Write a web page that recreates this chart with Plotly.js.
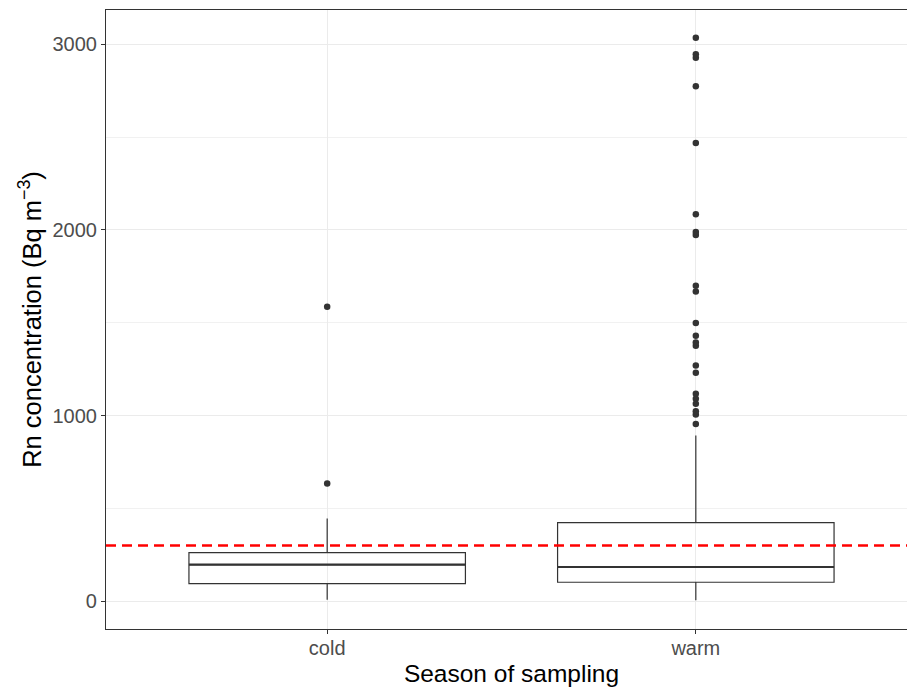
<!DOCTYPE html>
<html><head><meta charset="utf-8">
<script src="https://cdn.plot.ly/plotly-3.0.1.min.js"></script>
<style>html,body{margin:0;padding:0;overflow:hidden;background:#fff}</style>
</head><body><div id="chart" style="width:930px;height:689px"></div>
<script>
// ---- data ----
const categories = ['cold', 'warm'];
const categoryPos = [1, 2];
const q1 = [95, 102];
const medians = [197, 184];
const q3 = [262, 423];
const lowerWhisker = [7, 5];
const upperWhisker = [445, 892];
const coldOutliers = [634, 1586];
const warmOutliers = [955, 1005, 1023, 1063, 1090, 1118, 1231, 1269, 1376, 1394, 1430, 1498,
                      1668, 1699, 1973, 1989, 2084, 2469, 2774, 2928, 2946, 3036];
const threshold = 300;
const yTickVals = [0, 1000, 2000, 3000];
const yTickText = ['0', '1000', '2000', '3000'];

// ---- styles ----
const boxWidth = 0.75;
const ink = '#333333';
const font = 'Liberation Sans, Arial, sans-serif';

const boxTrace = {
  type: 'box',
  x: categoryPos,
  q1: q1, median: medians, q3: q3,
  lowerfence: lowerWhisker, upperfence: upperWhisker,
  width: boxWidth,
  whiskerwidth: 0,
  boxpoints: false,
  fillcolor: 'rgba(255,255,255,0)',
  line: {color: ink, width: 1.2},
  showlegend: false,
  hoverinfo: 'skip'
};

// thicker median line (ggplot style)
const medX = [], medY = [];
categoryPos.forEach((p, i) => {
  medX.push(p - boxWidth / 2, p + boxWidth / 2, null);
  medY.push(medians[i], medians[i], null);
});
const medianTrace = {
  type: 'scatter', mode: 'lines', x: medX, y: medY,
  line: {color: ink, width: 2.2}, showlegend: false, hoverinfo: 'skip'
};

const outX = coldOutliers.map(() => categoryPos[0]).concat(warmOutliers.map(() => categoryPos[1]));
const outY = coldOutliers.concat(warmOutliers);
const outlierTrace = {
  type: 'scatter', mode: 'markers', x: outX, y: outY,
  marker: {color: ink, size: 6.5}, showlegend: false, hoverinfo: 'skip'
};

const layout = {
  width: 930, height: 689,
  margin: {l: 105.6, r: 13, t: 10, b: 59.7},
  paper_bgcolor: '#fff', plot_bgcolor: '#fff',
  font: {family: font},
  xaxis: {
    range: [0.4, 2.6],
    tickvals: categoryPos, ticktext: categories,
    showgrid: true, gridcolor: '#EBEBEB', gridwidth: 1.1,
    zeroline: false, showline: true, mirror: true,
    linecolor: ink, linewidth: 1.1,
    ticks: 'outside', ticklen: 4, tickwidth: 1.1, tickcolor: ink,
    ticklabelstandoff: -3,
    tickfont: {family: font, size: 20, color: '#4D4D4D'},
    title: {text: 'Season of sampling', font: {family: font, size: 24.5, color: '#000'}, standoff: 6},
    automargin: false
  },
  yaxis: {
    range: [-150, 3185],
    tickvals: yTickVals, ticktext: yTickText,
    showgrid: true, gridcolor: '#EBEBEB', gridwidth: 1.1,
    minor: {dtick: 500, tick0: 0, showgrid: true, gridcolor: '#EBEBEB', gridwidth: 0.7},
    zeroline: false, showline: true, mirror: true,
    linecolor: ink, linewidth: 1.1,
    ticks: 'outside', ticklen: 4, tickwidth: 1.1, tickcolor: ink,
    tickfont: {family: font, size: 20, color: '#4D4D4D'},
    title: {text: 'Rn concentration (Bq m<sup>−3</sup>)', font: {family: font, size: 25.5, color: '#000'}, standoff: 3},
    automargin: false
  },
  shapes: [{
    type: 'line', xref: 'paper', x0: 0, x1: 1, yref: 'y', y0: threshold, y1: threshold,
    line: {color: '#FF0000', width: 2.5, dash: '10px,6px'}, layer: 'above'
  }]
};

Plotly.newPlot('chart', [boxTrace, medianTrace, outlierTrace], layout, {displayModeBar: false, staticPlot: true});
</script>
</body></html>
